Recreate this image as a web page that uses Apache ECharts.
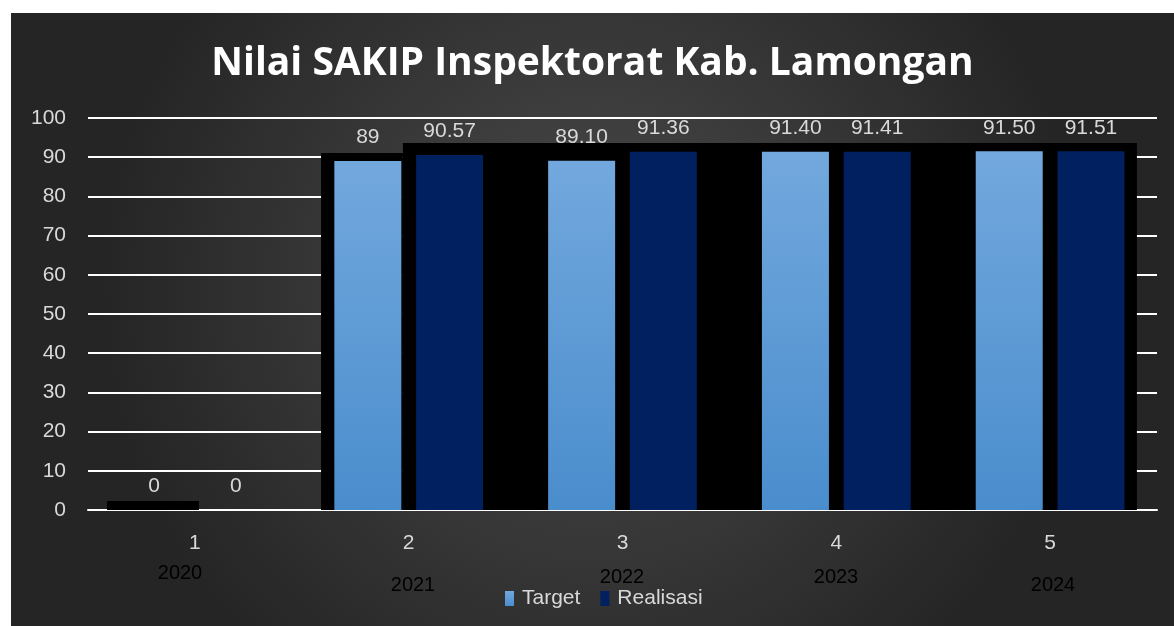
<!DOCTYPE html>
<html>
<head>
<meta charset="utf-8">
<script src="https://cdn.jsdelivr.net/npm/echarts@6/dist/echarts.min.js"></script>
<style>
    html, body { margin: 0; padding: 0; background: #ffffff; }
    #main { position: absolute; left: 11px; top: 13px; width: 1163px; height: 613px; }
</style>
</head>
<body>
<div id="main"></div>
<script>
// data
var categories = ['1', '2', '3', '4', '5'];
var years = ['2020', '2021', '2022', '2023', '2024'];
var targetData = [0, 89, 89.10, 91.40, 91.50];
var realisasiData = [0, 90.57, 91.36, 91.41, 91.51];
var targetLabels = ['0', '89', '89.10', '91.40', '91.50'];
var realisasiLabels = ['0', '90.57', '91.36', '91.41', '91.51'];
// black backdrop shapes: [from, to, height] on the category scale (1..5)
var backdrop = [
    [0.589, 1.019, 2.3],
    [1.590, 1.973, 91.1],
    [1.973, 5.406, 93.6]
];

var chart = echarts.init(document.getElementById('main'));
var labelColor = '#d9d9d9';
var font = 'Liberation Sans';

// year text under the axis (offsets)
var yearPos = [[169, 560], [402, 572], [611, 564], [825, 564], [1042, 572]];
var yearTexts = years.map(function (y, i) {
    return {
        type: 'text',
        x: yearPos[i][0],
        y: yearPos[i][1],
        silent: true,
        style: {
            text: y,
            fill: '#000000',
            font: '20px "Liberation Sans"',
            align: 'center',
            verticalAlign: 'middle'
        }
    };
});

var option = {
    backgroundColor: {
        type: 'radial', x: 0.5, y: 0.45, r: 0.8,
        colorStops: [
            {offset: 0, color: '#4b4b4b'},
            {offset: 1, color: '#252525'}
        ]
    },
    title: {
        text: 'Nilai SAKIP Inspektorat Kab. Lamongan',
        left: 'center',
        top: 26,
        textStyle: {
            color: '#ffffff',
            fontFamily: 'Open Sans',
            fontWeight: 'bold',
            fontSize: 39
        }
    },
    legend: {
        data: ['Target', 'Realisasi'],
        left: 489,
        top: 570,
        itemWidth: 9,
        itemHeight: 15,
        itemGap: 20,
        icon: 'rect',
        textStyle: {color: labelColor, fontSize: 21, fontFamily: font, padding: [0, 0, 0, 3]}
    },
    grid: {left: 77, right: 17, top: 105, bottom: 116},
    xAxis: [
        {
            type: 'category',
            data: categories,
            axisLine: {lineStyle: {color: '#ffffff', width: 2}},
            axisTick: {show: false},
            axisLabel: {color: labelColor, fontSize: 21, fontFamily: font, margin: 23}
        },
        {
            type: 'value',
            min: 0.5,
            max: 5.5,
            show: false
        }
    ],
    yAxis: {
        type: 'value',
        min: 0,
        max: 100,
        interval: 10,
        axisLine: {show: false},
        axisTick: {show: false},
        axisLabel: {color: labelColor, fontSize: 21, fontFamily: font, margin: 22},
        splitLine: {lineStyle: {color: '#ffffff', width: 2}}
    },
    graphic: yearTexts,
    series: [
        {
            name: 'backdrop',
            type: 'custom',
            xAxisIndex: 1,
            yAxisIndex: 0,
            z: 1,
            silent: true,
            data: backdrop,
            renderItem: function (params, api) {
                var p0 = api.coord([api.value(0), api.value(2)]);
                var p1 = api.coord([api.value(1), 0]);
                return {
                    type: 'rect',
                    shape: {x: p0[0], y: p0[1], width: p1[0] - p0[0], height: p1[1] - p0[1]},
                    style: {fill: '#000000'}
                };
            }
        },
        {
            name: 'Target',
            type: 'bar',
            z: 3,
            barWidth: 67,
            barGap: '22%',
            data: targetData,
            itemStyle: {
                color: {
                    type: 'linear', x: 0, y: 0, x2: 0, y2: 1,
                    colorStops: [
                        {offset: 0, color: '#72a8dd'},
                        {offset: 1, color: '#4a8dcd'}
                    ]
                }
            },
            label: {
                show: true,
                position: 'top',
                distance: 13,
                color: labelColor,
                fontSize: 21,
                fontFamily: font,
                formatter: function (p) { return targetLabels[p.dataIndex]; }
            }
        },
        {
            name: 'Realisasi',
            type: 'bar',
            z: 3,
            barWidth: 67,
            barGap: '22%',
            data: realisasiData,
            itemStyle: {color: '#002060'},
            label: {
                show: true,
                position: 'top',
                distance: 13,
                color: labelColor,
                fontSize: 21,
                fontFamily: font,
                formatter: function (p) { return realisasiLabels[p.dataIndex]; }
            }
        }
    ]
};
chart.setOption(option);
</script>
</body>
</html>
